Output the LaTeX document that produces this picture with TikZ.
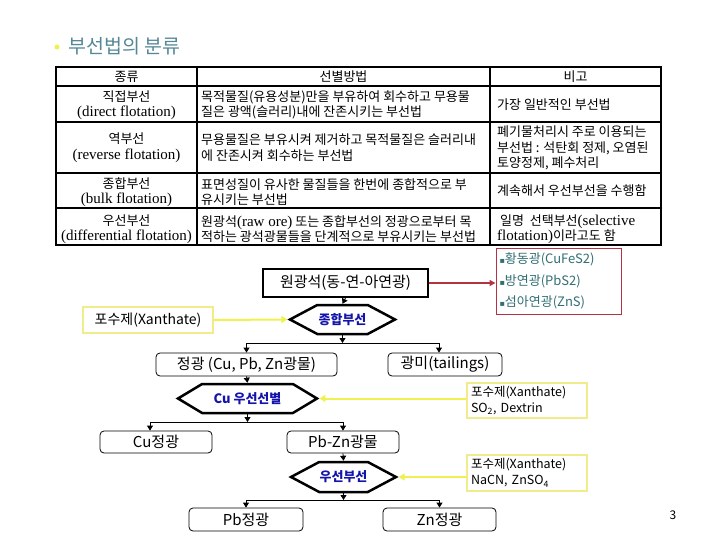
\documentclass[tikz,border=0pt]{standalone}
\usepackage{fontspec}
\setmainfont{Noto Sans CJK KR}
\newfontfamily\tms{Liberation Serif}
\newfontfamily\djv{DejaVu Sans}
\usetikzlibrary{arrows.meta,shapes.symbols,calc}
\definecolor{ttl}{RGB}{85,135,150}
\definecolor{ylw}{RGB}{240,240,80}
\definecolor{ylwbox}{RGB}{240,236,140}
\definecolor{redb}{RGB}{180,50,65}
\definecolor{redtxt}{RGB}{50,110,115}
\definecolor{hexblue}{RGB}{20,20,170}
\newcommand{\lat}[1]{{\tms\fontsize{15}{15}\selectfont #1}}
\newcommand{\sqb}{{\djv\fontsize{8}{8}\selectfont ▪}}
\tikzset{
  tbl/.style={font=\fontsize{13}{15.5}\selectfont, inner sep=0pt},
  fbox/.style={draw, rounded corners=4pt, line width=0.8pt, font=\fontsize{15}{17}\selectfont, inner sep=0pt},
  hexa/.style={signal, signal to=east and west, draw, line width=2.5pt, font=\bfseries\fontsize{13}{15}\selectfont, text=hexblue, inner sep=0pt},
  arr/.style={-{Triangle[length=5pt,width=6pt]}, line width=0.8pt},
  yarr/.style={draw=ylw, line width=2pt, -{Triangle[length=6pt,width=7pt]}},
  ybox/.style={draw=ylwbox, line width=1.2pt, font=\fontsize{12.5}{16}\selectfont, inner sep=0pt},
}
\begin{document}
\begin{tikzpicture}[x=1pt,y=-1pt]
\useasboundingbox (0,0) rectangle (720,540);
% title
\fill[ylw] (57,47) circle (2.5pt);
\node[anchor=west, text=ttl, font=\fontsize{19.5}{22}\selectfont, inner sep=0pt] (title) at (68,46) {부선법의 분류};
% table
\draw[line width=1.6pt] (56,67) rectangle (661,245);
\foreach \yy in {86,122,173,208} \draw[line width=1.6pt] (56,\yy) -- (661,\yy);
\draw[line width=1.6pt] (197,67) -- (197,245);
\draw[line width=1.6pt] (490,67) -- (490,245);
% header
\node[tbl] (th1) at (126.5,76.5) {종류};
\node[tbl] (th2) at (343.5,76.5) {선별방법};
\node[tbl] (th3) at (575.5,76.5) {비고};
% row1
\node[tbl, align=center] (r1a) at (126.5,105) {직접부선\\\lat{(direct flotation)}};
\node[tbl, align=left, anchor=west] (r1b) at (201,105) {목적물질(유용성분)만을 부유하여 회수하고 무용물\\질은 광액(슬러리)내에 잔존시키는 부선법};
\node[tbl, align=left, anchor=west] (r1c) at (497,105) {가장 일반적인 부선법};
% row2
\node[tbl, align=center] (r2a) at (126.5,147.5) {역부선\\\lat{(reverse flotation)}};
\node[tbl, align=left, anchor=west] (r2b) at (201,147.5) {무용물질은 부유시켜 제거하고 목적물질은 슬러리내\\에 잔존시켜 회수하는 부선법};
\node[tbl, align=left, anchor=west] (r2c) at (497,148) {폐기물처리시 주로 이용되는\\부선법 : 석탄회 정제, 오염된\\토양정제, 폐수처리};
% row3
\node[tbl, align=center] (r3a) at (126.5,192) {종합부선\\\lat{(bulk flotation)}};
\node[tbl, align=left, anchor=west] (r3b) at (201,192) {표면성질이 유사한 물질들을 한번에 종합적으로 부\\유시키는 부선법};
\node[tbl, align=left, anchor=west] (r3c) at (497,190.5) {계속해서 우선부선을 수행함};
% row4
\node[tbl, align=center] (r4a) at (126.5,229) {우선부선\\\lat{(differential flotation)}};
\node[tbl, align=left, anchor=west] (r4b) at (201,229) {원광석\lat{(raw ore)} 또는 종합부선의 정광으로부터 목\\적하는 광석광물들을 단계적으로 부유시키는 부선법};
\node[tbl, align=left, anchor=west] (r4c) at (497,229) {\ 일명\ \ 선택부선\lat{(selective}\\\lat{flotation)}이라고도 함};
% flowchart
\node[draw, line width=2pt, minimum width=165pt, minimum height=28pt, inner sep=0pt, font=\fontsize{15}{17}\selectfont] (ore) at (345.5,283) {원광석(동-연-아연광)};
\node[draw=redb, line width=1pt, minimum height=66pt, inner xsep=3.5pt, text width=118pt, align=left, font=\fontsize{13}{21.5}\selectfont, text=redtxt] (min) at (558.5,281) {\sqb 황동광(CuFeS2)\\\sqb 방연광(PbS2)\\\sqb 섬아연광(ZnS)};
\draw[redb, line width=1.5pt, -{Triangle[length=6pt,width=6pt]}] (ore.east) -- (ore.east -| min.west);

\node[ybox, minimum width=130pt, minimum height=26pt, font=\fontsize{14}{16}\selectfont] (xa1) at (148,320) {포수제(Xanthate)};
\node[hexa, minimum width=105pt, minimum height=29pt, signal pointer angle=56] (h1) at (342.5,319.5) {종합부선};
\draw[arr] (ore.south) -- (h1.north);
\draw[yarr] (xa1.east) -- (h1.west);

\coordinate (j1) at (342.5,343);
\node[fbox, minimum width=181pt, minimum height=23pt] (conc) at (246.5,364.5) {정광 (Cu, Pb, Zn광물)};
\node[fbox, minimum width=114pt, minimum height=23pt] (tail) at (445,364.5) {광미(tailings)};
\draw[arr] (h1.south) -- (j1);
\draw[arr] (j1) -| (conc.north);
\draw[arr] (j1) -| ([xshift=-6pt]tail.north);

\node[hexa, minimum width=139pt, minimum height=29pt, signal pointer angle=62] (h2) at (247.5,398.5) {Cu 우선선별};
\node[ybox, minimum width=120pt, minimum height=35pt, text width=112pt, align=left] (xa2) at (527,400.5) {포수제(Xanthate)\\SO\textsubscript{2}, Dextrin};
\draw[arr] (conc.south) -- (h2.north);
\draw[yarr] (xa2.west |- h2.east) -- (h2.east);

\coordinate (j2) at (247.5,422);
\node[fbox, minimum width=112pt, minimum height=22pt] (cuc) at (156,442) {Cu정광};
\node[fbox, minimum width=112pt, minimum height=22pt] (pbzn) at (343,442) {Pb-Zn광물};
\draw[arr] (h2.south) -- (j2);
\draw[arr] (j2) -| ([xshift=-6pt]cuc.north);
\draw[arr] (j2) -| (pbzn.north);

\node[hexa, minimum width=105pt, minimum height=30pt, signal pointer angle=56] (h3) at (343.5,477) {우선부선};
\node[ybox, minimum width=120pt, minimum height=36pt, text width=112pt, align=left] (xa3) at (527,473) {포수제(Xanthate)\\NaCN, ZnSO\textsubscript{4}};
\draw[arr] (pbzn.south) -- (h3.north);
\draw[yarr] (xa3.west |- h3.east) -- (h3.east);

\coordinate (j3) at (343.5,500);
\node[fbox, minimum width=114pt, minimum height=23pt] (pbc) at (246,519.5) {Pb정광};
\node[fbox, minimum width=113pt, minimum height=23pt] (znc) at (439.5,519.5) {Zn정광};
\draw[arr] (h3.south) -- (j3);
\draw[arr] (j3) -| (pbc.north);
\draw[arr] (j3) -| (znc.north);

\node[font=\fontsize{12}{14}\selectfont, inner sep=0pt] (pg) at (673,515) {3};
\end{tikzpicture}
\end{document}
